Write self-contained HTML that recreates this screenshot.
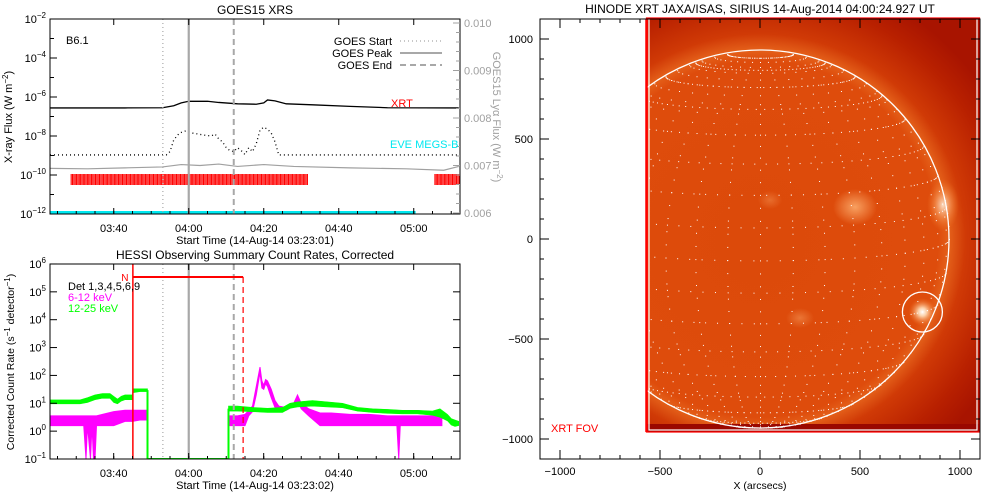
<!DOCTYPE html>
<html><head><meta charset="utf-8"><style>
html,body{margin:0;padding:0;background:#fff}
svg{display:block;font-family:"Liberation Sans",sans-serif}
</style></head><body>
<svg id="fig" width="1000" height="500" viewBox="0 0 1000 500" xmlns="http://www.w3.org/2000/svg">
<defs>
<clipPath id="clipTop"><rect x="50" y="19" width="410" height="195"/></clipPath>
<clipPath id="clipBot"><rect x="50" y="264" width="410" height="195"/></clipPath>
<clipPath id="clipImg"><rect x="647" y="19" width="333" height="413"/></clipPath>
<radialGradient id="sunGrad" gradientUnits="userSpaceOnUse" cx="760" cy="239" r="270">
<stop offset="0" stop-color="#dc4a0a"/><stop offset="0.66" stop-color="#de4c0c"/><stop offset="0.70" stop-color="#e4601a"/><stop offset="0.76" stop-color="#d03a06"/><stop offset="0.9" stop-color="#b82000"/><stop offset="1" stop-color="#a81400"/></radialGradient>
<radialGradient id="glowA"><stop offset="0" stop-color="#f8a060"/><stop offset="1" stop-color="#f8a060" stop-opacity="0"/></radialGradient>
<radialGradient id="glowB"><stop offset="0" stop-color="#fbe0c8"/><stop offset="0.5" stop-color="#f49050" stop-opacity="0.7"/><stop offset="1" stop-color="#f07020" stop-opacity="0"/></radialGradient>
<radialGradient id="glowC"><stop offset="0" stop-color="#ffffff"/><stop offset="0.3" stop-color="#fcd0a8"/><stop offset="1" stop-color="#f07020" stop-opacity="0"/></radialGradient>
</defs>
<g id="topPanel"></g>
<g id="botPanel"></g>
<g id="sunPanel"></g>
</svg>
<script>
// ---------- GOES panel data (minutes since 03:23:01) ----------
const xrtT = [0,20,30,33,35,37,42,45,50,55,57,58,60,63,70,80,90,109];
const xrtLog = [-6.56,-6.56,-6.55,-6.45,-6.3,-6.22,-6.22,-6.28,-6.35,-6.37,-6.3,-6.15,-6.2,-6.35,-6.4,-6.48,-6.55,-6.56];
const goesT = [0,31,32,33,34.5,36,38,41,43,44,45,46,47,48,49,50,51,52,53,54,55,56,57,58,59,60,61,109];
const goesLog = [-8.97,-8.97,-8.8,-8.2,-7.85,-7.75,-7.85,-7.95,-8.0,-7.9,-8.15,-8.3,-8.6,-8.75,-8.8,-8.6,-8.75,-8.95,-8.6,-8.8,-8.4,-7.7,-7.55,-7.65,-7.85,-8.3,-8.97,-8.97];
const lyaT = [0,10,20,30,35,40,45,50,57,65,80,95,105,109];
const lyaVal = [6.94,6.93,6.95,6.97,7.02,7.0,7.03,6.98,7.02,6.98,6.95,6.93,6.9,6.98];
const xrtObsStart = [5.5,102.5];
const xrtObsEnd = [68.5,109];
const eveRange = [0,97.5];
const goesStartT = 30.1, goesPeakT = 37.0, goesEndT = 49.0;
const topXTicks = ["03:40","04:00","04:20","04:40","05:00"];
const topXTickT = [17,37,57,77,97];
const topYTickExp = ["-2","-4","-6","-8","-10","-12"];
const rightTicks = ["0.006","0.007","0.008","0.009","0.010"];
// ---------- HESSI data (minutes since 03:23:02), log10 counts ----------
const grnT1 = [0,4,8,10,12,14,16,17,18,19,20,21,22,22.1,24,26];
const grnLo1 = [0.98,0.98,0.98,1.03,1.13,1.18,1.18,1.03,0.98,1.08,1.13,1.13,1.13,1.38,1.42,1.42];
const grnHi1 = [1.12,1.12,1.12,1.2,1.3,1.35,1.35,1.25,1.15,1.25,1.3,1.3,1.3,1.52,1.52,1.52];
const grnT2 = [47.6,50,54,58,62,64,66,70,74,78,82,86,90,94,98,102,104,106,107,108,109];
const grnLo2 = [0.72,0.72,0.7,0.67,0.67,0.82,0.87,0.9,0.87,0.84,0.72,0.67,0.64,0.62,0.62,0.57,0.5,0.37,0.22,0.17,0.2];
const grnHi2 = [0.9,0.9,0.85,0.82,0.85,1.0,1.05,1.1,1.05,1.0,0.85,0.8,0.78,0.75,0.75,0.72,0.8,0.6,0.45,0.4,0.35];
const magT1 = [0,4,8,9,9.6,10,10.8,11.2,11.6,12,12.4,14,17,20,22,24,26];
const magLo1 = [0.2,0.2,0.2,0.2,-1,0.2,-1,0.2,-1,-1,0.2,0.2,0.2,0.35,0.35,0.4,0.4];
const magHi1 = [0.55,0.55,0.55,0.55,0.55,0.55,0.55,0.55,0.55,0.55,0.55,0.6,0.7,0.75,0.75,0.75,0.75];
const magT2 = [47.6,50,52,53,54,55,56,56.5,57,57.5,58,59,60,61,63,65,66,67,69,72,75,80,85,90,92.5,93,93.4,96,100,104.5];
const magLo2 = [0.2,0.2,0.2,0.55,0.7,1.3,2.1,1.55,1.5,1.7,1.6,1.2,0.85,0.7,0.75,0.9,1.1,0.8,0.55,0.2,0.2,0.2,0.2,0.2,0.2,-1,0.2,0.2,0.2,0.2];
const magHi2 = [0.55,0.55,0.6,0.75,0.9,1.6,2.3,1.8,1.65,1.85,1.8,1.5,1.1,0.9,0.85,1.0,1.3,1.0,0.8,0.65,0.65,0.6,0.6,0.55,0.55,0.55,0.55,0.55,0.55,0.55];
const nightStartT = 22.1, nightEndT = 51.5;
const botYTickExp = ["6","5","4","3","2","1","0","-1"];
// ---------- XRT image (arcsec) ----------
const sunRadius = 945;
const fovX = [-565,1100];
const fovY = [-965,1100];
const flareCircle = [812,-365,100];
const sunXTicks = ["-1000","-500","0","500","1000"];
const sunYTicks = ["1000","500","0","-500","-1000"];

const NS="http://www.w3.org/2000/svg";
function mk(tag,attrs,parent,name,inter){const e=document.createElementNS(NS,tag);for(const k in attrs)e.setAttribute(k,attrs[k]);


parent.appendChild(e);return e;}
function txt(parent,x,y,s,name,opt){opt=opt||{};const t=mk('text',{x:x,y:y,'font-size':opt.fs||11,fill:opt.fill||'#000','text-anchor':opt.anchor||'middle'},parent,name,false);
if(opt.rot)t.setAttribute('transform','rotate('+opt.rot+' '+x+' '+y+')');t.textContent=s;return t;}
function pow(parent,x,y,exp,name,opt){opt=opt||{};const t=mk('text',{x:x,y:y,'font-size':11,fill:opt.fill||'#000','text-anchor':'end'},parent,name,false);
t.appendChild(document.createTextNode('10'));const s=document.createElementNS(NS,'tspan');s.setAttribute('dy','-5');s.setAttribute('font-size','8');s.textContent=exp.replace('-','\u2212');t.appendChild(s);return t;}

const xT=t=>50+t*3.75;
const yT=l=>19+(-2-l)*19.5;
const yR=v=>213-(v-6)*47.5;
const yB=l=>459-(l+1)*27.86;

// ===== TOP PANEL =====
const topG=document.getElementById('topPanel');
txt(topG,255,14,'GOES15 XRS','top-title',{fs:12});
const tc=mk('g',{'clip-path':'url(#clipTop)'},topG,'top-plot-area',false);
for(let k=0;k<xrtObsStart.length;k++){
  const g=mk('g',{},tc,'xrt-observation-bars',false);
  for(let t=xrtObsStart[k];t<xrtObsEnd[k];t+=0.36){
    mk('rect',{x:xT(t),y:174,width:1.1,height:11,fill:'#ff0000'},g,'xrt-obs-tick',false);
  }
}
mk('line',{x1:xT(eveRange[0]),x2:xT(eveRange[1]),y1:212.5,y2:212.5,stroke:'#00e8f0','stroke-width':3},tc,'eve-megs-b-line',false);
mk('polyline',{points:lyaT.map((t,i)=>xT(t)+','+yR(lyaVal[i])).join(' '),fill:'none',stroke:'#a0a0a0','stroke-width':1.2},tc,'goes-lya-line',false);
mk('polyline',{points:xrtT.map((t,i)=>xT(t)+','+yT(xrtLog[i])).join(' '),fill:'none',stroke:'#000','stroke-width':1.3},tc,'xrt-flux-line',false);
mk('polyline',{points:goesT.map((t,i)=>xT(t)+','+yT(goesLog[i])).join(' '),fill:'none',stroke:'#000','stroke-width':1.3,'stroke-dasharray':'1 3'},tc,'goes-flux-dotted',false);
mk('line',{x1:xT(goesStartT),x2:xT(goesStartT),y1:19,y2:214,stroke:'#a8a8a8','stroke-width':1.2,'stroke-dasharray':'1 3'},topG,'goes-start-line',false);
mk('line',{x1:xT(goesPeakT),x2:xT(goesPeakT),y1:19,y2:214,stroke:'#a8a8a8','stroke-width':2.2},topG,'goes-peak-line',false);
mk('line',{x1:xT(goesEndT),x2:xT(goesEndT),y1:19,y2:214,stroke:'#a8a8a8','stroke-width':2,'stroke-dasharray':'6 4'},topG,'goes-end-line',false);
mk('rect',{x:50,y:19,width:410,height:195,fill:'none',stroke:'#000','stroke-width':1},topG,'top-frame',false);
topXTickT.forEach((t,i)=>{mk('line',{x1:xT(t),x2:xT(t),y1:214,y2:208,stroke:'#000'},topG,'top-x-tick',false);mk('line',{x1:xT(t),x2:xT(t),y1:19,y2:25,stroke:'#000'},topG,'top-x-tick',false);
 txt(topG,xT(t),232,topXTicks[i],'top-x-tick-label');});
for(let t=2;t<109;t+=5){mk('line',{x1:xT(t),x2:xT(t),y1:214,y2:211,stroke:'#000'},topG,'top-x-minor-tick',false);}
for(let e=-2;e>=-12;e--){const w=(e%2===0)?7:4;mk('line',{x1:50,x2:50+w,y1:yT(e),y2:yT(e),stroke:'#000'},topG,'top-y-tick',false);}
topYTickExp.forEach(e=>pow(topG,46,yT(+e)+4,e,'top-y-tick-label'));
rightTicks.forEach(v=>{const y=yR(+v*1000);mk('line',{x1:460,x2:453,y1:y,y2:y,stroke:'#a0a0a0'},topG,'right-y-tick',false);txt(topG,464,y+4,v,'right-y-tick-label',{fill:'#a0a0a0',anchor:'start'});});
for(let v=6.2;v<10;v+=0.2){mk('line',{x1:460,x2:456,y1:yR(v),y2:yR(v),stroke:'#a0a0a0'},topG,'right-y-minor-tick',false);}
txt(topG,255,244,'Start Time (14-Aug-14 03:23:01)','top-x-axis-title');
{const t=txt(topG,12,117,'X-ray Flux (W m','left-y-axis-title',{rot:-90});const s=document.createElementNS(NS,'tspan');s.setAttribute('dy','-4');s.setAttribute('font-size','8');s.textContent='\u22122';t.appendChild(s);const s2=document.createElementNS(NS,'tspan');s2.setAttribute('dy','4');s2.textContent=')';t.appendChild(s2);}
{const t=txt(topG,493,117,'GOES15 Ly\u03b1 Flux (W m','right-y-axis-title',{rot:90,fill:'#a0a0a0'});const s=document.createElementNS(NS,'tspan');s.setAttribute('dy','-4');s.setAttribute('font-size','8');s.textContent='\u22122';t.appendChild(s);const s2=document.createElementNS(NS,'tspan');s2.setAttribute('dy','4');s2.textContent=')';t.appendChild(s2);}
txt(topG,66,44,'B6.1','goes-class-label',{anchor:'start'});
const lg=mk('g',{},topG,'top-legend',false);
txt(lg,392,45,'GOES Start','legend-goes-start',{anchor:'end'});
mk('line',{x1:400,x2:442,y1:41,y2:41,stroke:'#a8a8a8','stroke-width':1.2,'stroke-dasharray':'1 3'},lg,'legend-goes-start-line',false);
txt(lg,392,57,'GOES Peak','legend-goes-peak',{anchor:'end'});
mk('line',{x1:400,x2:442,y1:53,y2:53,stroke:'#a8a8a8','stroke-width':2},lg,'legend-goes-peak-line',false);
txt(lg,392,69,'GOES End','legend-goes-end',{anchor:'end'});
mk('line',{x1:400,x2:442,y1:65,y2:65,stroke:'#a8a8a8','stroke-width':2,'stroke-dasharray':'6 4'},lg,'legend-goes-end-line',false);
txt(topG,391,107,'XRT','xrt-label',{fill:'#ff0000',anchor:'start'});
txt(topG,390,148,'EVE MEGS-B','eve-label',{fill:'#00e8f0',anchor:'start'});

// ===== BOTTOM PANEL =====
const botG=document.getElementById('botPanel');
txt(botG,255,259,'HESSI Observing Summary Count Rates, Corrected','bottom-title',{fs:12});
const bc=mk('g',{'clip-path':'url(#clipBot)'},botG,'bottom-plot-area',false);
function band(T,L,H,fill,name,sw){const pts=T.map((t,i)=>xT(t)+','+yB(H[i])).concat(T.map((t,i)=>xT(t)+','+yB(L[i])).reverse());
 mk('polygon',{points:pts.join(' '),fill:fill,stroke:fill,'stroke-width':sw},bc,name,false);}
band(magT1,magLo1,magHi1,'#ff00ff','magenta-6-12kev-seg1',1);
band(magT2,magLo2,magHi2,'#ff00ff','magenta-6-12kev-seg2',1);
band(grnT1,grnLo1,grnHi1,'#00ff00','green-12-25kev-seg1',0.6);
band(grnT2,grnLo2,grnHi2,'#00ff00','green-12-25kev-seg2',0.6);
{const a=grnT1.length-1,b=0;
mk('polyline',{points:[xT(grnT1[a])+','+yB((grnLo1[a]+grnHi1[a])/2),xT(grnT1[a])+','+yB(-1),xT(grnT2[b])+','+yB(-1),xT(grnT2[b])+','+yB((grnLo2[b]+grnHi2[b])/2)].join(' '),fill:'none',stroke:'#00ff00','stroke-width':2},bc,'green-gap-line',false);}
mk('line',{x1:xT(goesStartT),x2:xT(goesStartT),y1:264,y2:459,stroke:'#a8a8a8','stroke-width':1.2,'stroke-dasharray':'1 3'},botG,'goes-start-line-b',false);
mk('line',{x1:xT(goesPeakT),x2:xT(goesPeakT),y1:264,y2:459,stroke:'#a8a8a8','stroke-width':2.2},botG,'goes-peak-line-b',false);
mk('line',{x1:xT(goesEndT),x2:xT(goesEndT),y1:264,y2:459,stroke:'#a8a8a8','stroke-width':2,'stroke-dasharray':'6 4'},botG,'goes-end-line-b',false);
mk('line',{x1:xT(nightStartT),x2:xT(nightStartT),y1:264,y2:459,stroke:'#ff0000','stroke-width':1.5},botG,'night-start-line',false);
mk('line',{x1:xT(nightStartT),x2:xT(nightEndT),y1:277,y2:277,stroke:'#ff0000','stroke-width':2},botG,'night-bar',false);
mk('line',{x1:xT(nightEndT),x2:xT(nightEndT),y1:277,y2:459,stroke:'#ff0000','stroke-width':1.2,'stroke-dasharray':'6 4'},botG,'night-end-line',false);
txt(botG,xT(nightStartT)-8,281,'N','night-label',{fill:'#ff0000',fs:10});
mk('rect',{x:50,y:264,width:410,height:195,fill:'none',stroke:'#000','stroke-width':1},botG,'bottom-frame',false);
topXTickT.forEach((t,i)=>{const x=xT(t-1/60);mk('line',{x1:x,x2:x,y1:459,y2:453,stroke:'#000'},botG,'bottom-x-tick',false);mk('line',{x1:x,x2:x,y1:264,y2:270,stroke:'#000'},botG,'bottom-x-tick',false);
 txt(botG,x,477,topXTicks[i],'bottom-x-tick-label');});
for(let t=2;t<109;t+=5){mk('line',{x1:xT(t),x2:xT(t),y1:459,y2:456,stroke:'#000'},botG,'bottom-x-minor-tick',false);}
botYTickExp.forEach(e=>{const y=yB(+e);mk('line',{x1:50,x2:57,y1:y,y2:y,stroke:'#000'},botG,'bottom-y-tick',false);mk('line',{x1:460,x2:453,y1:y,y2:y,stroke:'#000'},botG,'bottom-y-tick-r',false);pow(botG,46,y+4,e,'bottom-y-tick-label');});
txt(botG,255,489,'Start Time (14-Aug-14 03:23:02)','bottom-x-axis-title');
{const t=txt(botG,14,362,'Corrected Count Rate (s','bottom-y-axis-title',{rot:-90,fs:10.5});const s=document.createElementNS(NS,'tspan');s.setAttribute('dy','-4');s.setAttribute('font-size','8');s.textContent='\u22121';t.appendChild(s);const s2=document.createElementNS(NS,'tspan');s2.setAttribute('dy','4');s2.textContent=' detector';t.appendChild(s2);const s3=document.createElementNS(NS,'tspan');s3.setAttribute('dy','-4');s3.setAttribute('font-size','8');s3.textContent='\u22121';t.appendChild(s3);const s4=document.createElementNS(NS,'tspan');s4.setAttribute('dy','4');s4.textContent=')';t.appendChild(s4);}
txt(botG,68,290,'Det 1,3,4,5,6,9','legend-detectors',{anchor:'start'});
txt(botG,68,301,'6-12 keV','legend-6-12kev',{anchor:'start',fill:'#ff00ff'});
txt(botG,68,312,'12-25 keV','legend-12-25kev',{anchor:'start',fill:'#00ff00'});

// ===== SUN PANEL =====
const sunG=document.getElementById('sunPanel');
const sx=a=>760+a*0.2, sy=a=>239-a*0.2;
txt(sunG,760,13,'HINODE XRT JAXA/ISAS, SIRIUS 14-Aug-2014 04:00:24.927 UT','xrt-title',{fs:12});
const ic=mk('g',{'clip-path':'url(#clipImg)'},sunG,'xrt-image',false);
mk('rect',{x:sx(fovX[0]),y:sy(fovY[1]),width:(fovX[1]-fovX[0])*0.2,height:(fovY[1]-fovY[0])*0.2,fill:'url(#sunGrad)'},ic,'xrt-image-bg',false);
mk('rect',{x:647,y:424,width:333,height:8,fill:'#9a0800'},ic,'image-bottom-band',false);
mk('ellipse',{cx:855,cy:207,rx:22,ry:18,fill:'url(#glowA)'},ic,'active-region-1',false);
mk('ellipse',{cx:943,cy:205,rx:16,ry:26,fill:'url(#glowB)'},ic,'limb-brightening',false);
mk('circle',{cx:sx(flareCircle[0]),cy:sy(flareCircle[1]),r:14,fill:'url(#glowC)'},ic,'flare-kernel',false);
mk('ellipse',{cx:800,cy:318,rx:14,ry:10,fill:'url(#glowA)','opacity':0.5},ic,'active-region-2',false);
mk('ellipse',{cx:770,cy:200,rx:12,ry:9,fill:'url(#glowA)','opacity':0.4},ic,'active-region-3',false);
const B0=6.5*Math.PI/180;
const gg=mk('g',{fill:'#fff'},ic,'heliographic-grid',false);
function proj(lat,lon){const f=lat*Math.PI/180,l=lon*Math.PI/180;const x=Math.cos(f)*Math.sin(l),y=Math.sin(f)*Math.cos(B0)-Math.cos(f)*Math.cos(l)*Math.sin(B0),z=Math.sin(f)*Math.sin(B0)+Math.cos(f)*Math.cos(l)*Math.cos(B0);return [x*sunRadius,y*sunRadius,z];}
for(let lat=-80;lat<=80;lat+=10)for(let lon=-90;lon<=90;lon+=4){const p=proj(lat,lon);if(p[2]>0)mk('rect',{x:sx(p[0]),y:sy(p[1]),width:1,height:1},gg,'grid-dot',false);}
for(let lon=-90;lon<=90;lon+=10)for(let lat=-80;lat<=80;lat+=4){const p=proj(lat,lon);if(p[2]>0)mk('rect',{x:sx(p[0]),y:sy(p[1]),width:1,height:1},gg,'grid-dot',false);}
mk('circle',{cx:sx(0),cy:sy(0),r:sunRadius*0.2,fill:'none',stroke:'#fff','stroke-width':1.3},ic,'solar-limb',false);
mk('circle',{cx:sx(flareCircle[0]),cy:sy(flareCircle[1]),r:flareCircle[2]*0.2,fill:'none',stroke:'#fff','stroke-width':1.3},ic,'flare-circle',false);
mk('rect',{x:sx(fovX[0])+2,y:18,width:328,height:sy(fovY[0])-20,fill:'none',stroke:'#fff','stroke-width':1.2},sunG,'image-inner-border',false);
mk('rect',{x:sx(fovX[0])-0.5,y:18,width:333,height:sy(fovY[0])-18,fill:'none',stroke:'#ff0000','stroke-width':1.2},sunG,'xrt-fov-box',false);
mk('line',{x1:sx(fovX[0])-0.5,x2:sx(fovX[0])-0.5,y1:19,y2:sy(fovY[0]),stroke:'#ff0000','stroke-width':2.5},sunG,'fov-left-edge',false);
txt(sunG,551,432,'XRT FOV','xrt-fov-label',{fill:'#ff0000',anchor:'start'});
mk('rect',{x:540,y:19,width:440,height:440,fill:'none',stroke:'#000','stroke-width':1},sunG,'sun-frame',false);
for(let a=-1000;a<=1000;a+=100){const maj=(a%500===0);const L=maj?9:4;
 mk('line',{x1:sx(a),x2:sx(a),y1:459,y2:459-L,stroke:'#000'},sunG,'sun-x-tick',false);
 mk('line',{x1:sx(a),x2:sx(a),y1:19,y2:19+L,stroke:'#000'},sunG,'sun-x-tick-top',false);
 mk('line',{x1:540,x2:540+L,y1:sy(a),y2:sy(a),stroke:'#000'},sunG,'sun-y-tick',false);
 mk('line',{x1:980,x2:980-L,y1:sy(a),y2:sy(a),stroke:'#000'},sunG,'sun-y-tick-right',false);}
sunXTicks.forEach(s=>txt(sunG,sx(+s),475,s.replace('-','\u2212'),'sun-x-tick-label'));
sunYTicks.forEach(s=>txt(sunG,533,sy(+s)+4,s.replace('-','\u2212'),'sun-y-tick-label',{anchor:'end'}));
txt(sunG,760,489,'X (arcsecs)','sun-x-axis-title',{fs:10.5});
</script>
</body></html>
